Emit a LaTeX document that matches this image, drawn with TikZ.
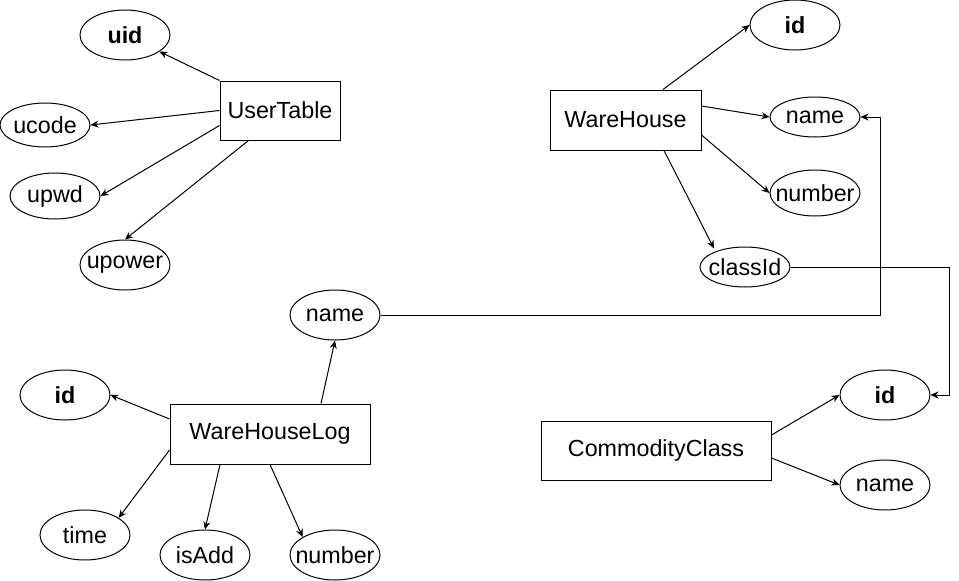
\documentclass[tikz,border=0pt]{standalone}
\usepackage{fontspec}
\setmainfont{Liberation Sans}
\usetikzlibrary{shapes.geometric,arrows.meta,calc}
\newcommand{\zw}[1]{\makebox[0pt]{#1}}
\tikzset{
  ent/.style={draw,rectangle,inner sep=0pt,line width=1pt,font=\fontsize{23.3}{27}\selectfont},
  attr/.style={draw,ellipse,inner sep=0pt,line width=1pt,minimum width=90pt,font=\fontsize{23.3}{27}\selectfont},
  key/.style={attr,font=\fontsize{23.3}{27}\selectfont\bfseries},
  conn/.style={line width=1pt,-{Stealth[length=8pt,width=7pt]}}
}
\begin{document}
\begin{tikzpicture}[x=1pt,y=-1pt]
\useasboundingbox (0,0) rectangle (959,581);
% UserTable
\node[ent,minimum width=120pt,minimum height=59pt] (ut) at (280,110.5) {UserTable};
\node[key,minimum height=50pt] (uid) at (125,35) {\zw{uid}};
\node[attr,minimum height=44pt] (ucode) at (45,125) {\zw{ucode}};
\node[attr,minimum height=46pt] (upwd) at (55,196) {\zw{upwd}};
\node[attr,minimum height=50pt] (upower) at (125,265) {\zw{upower}};
% WareHouse
\node[ent,minimum width=151pt,minimum height=60pt] (wh) at (625.5,120) {WareHouse};
\node[key,minimum height=50pt] (whid) at (795,25) {\zw{id}};
\node[attr,minimum height=40pt] (whname) at (815,117) {\zw{name}};
\node[attr,minimum height=46pt] (whnum) at (815,193) {\zw{number}};
\node[attr,minimum height=40pt] (whcls) at (745,267) {\zw{classId}};
% WareHouseLog
\node[ent,minimum width=200pt,minimum height=60pt] (wl) at (270,434) {WareHouseLog};
\node[attr,minimum height=50pt] (wlname) at (335,315) {\zw{name}};
\node[key,minimum height=50pt] (wlid) at (65,395) {\zw{id}};
\node[attr,minimum height=50pt] (wltime) at (85,535) {\zw{time}};
\node[attr,minimum height=50pt] (wladd) at (205,555) {\zw{isAdd}};
\node[attr,minimum height=50pt] (wlnum) at (335,555) {\zw{number}};
% CommodityClass
\node[ent,minimum width=230pt,minimum height=59pt] (cc) at (656,450.5) {CommodityClass};
\node[key,minimum height=50pt] (ccid) at (885,395) {\zw{id}};
\node[attr,minimum height=50pt] (ccname) at (885,485) {\zw{name}};
% connectors UserTable
\draw[conn] (ut.north west) -- (uid);
\draw[conn] (ut.west) -- (ucode.east);
\draw[conn] ([yshift=-15pt]ut.west) -- (upwd.east);
\draw[conn] ([xshift=29pt]ut.south west) -- (upower.north);
% connectors WareHouse
\draw[conn] ([xshift=37.5pt]wh.north) -- (whid.west);
\draw[conn] ([yshift=14pt]wh.east) -- (whname.west);
\draw[conn] ([yshift=-15pt]wh.east) -- (whnum.west);
\draw[conn] ([xshift=38.5pt]wh.south) -- ([xshift=-31pt,yshift=-2pt]whcls.north);
% connectors WareHouseLog
\draw[conn] ([xshift=51pt]wl.north) -- (wlname.south);
\draw[conn] ([yshift=15pt]wl.west) -- (wlid.east);
\draw[conn] ([yshift=-16pt]wl.west) -- (wltime.27);
\draw[conn] ([xshift=-50pt]wl.south) -- (wladd.north);
\draw[conn] (wl.south) -- (wlnum.151);
% connectors CommodityClass
\draw[conn] ([yshift=15.5pt]cc.east) -- (ccid.west);
\draw[conn] ([yshift=-7.5pt]cc.east) -- (ccname.west);
% foreign links
\draw[conn] (whcls.east) -| ([xshift=19pt]ccid.east) -- (ccid.east);
\draw[conn] (wlname.east) -| ([xshift=20pt]whname.east) -- (whname.east);
\end{tikzpicture}
\end{document}
